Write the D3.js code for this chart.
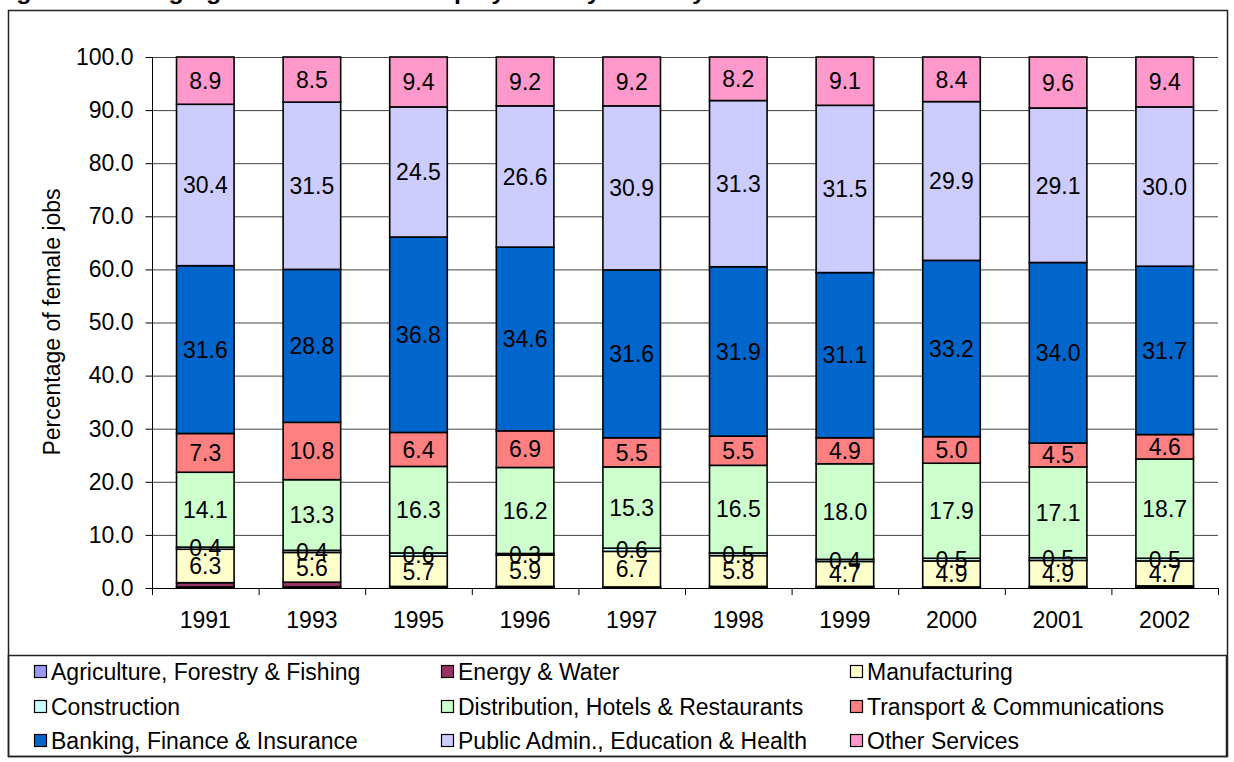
<!DOCTYPE html>
<html><head><meta charset="utf-8">
<script src="https://cdn.jsdelivr.net/npm/d3@7"></script>
<style>
body{margin:0;background:#fff;}
svg{display:block;font-family:"Liberation Sans",Arial,sans-serif;}
</style></head>
<body><svg id="c" width="1234" height="762"></svg>
<script>
const years = ["1991","1993","1995","1996","1997","1998","1999","2000","2001","2002"];
const seriesNames = ["Agriculture, Forestry & Fishing","Energy & Water","Manufacturing","Construction","Distribution, Hotels & Restaurants","Transport & Communications","Banking, Finance & Insurance","Public Admin., Education & Health","Other Services"];
const seriesColors = ["#9999FF","#993366","#FFFFCC","#CCFFFF","#CCFFCC","#FF8080","#0066CC","#CCCCFF","#FF99CC"];
const showLabel = [false,false,true,true,true,true,true,true,true];
const agriculture   = [0.2,0.2,0.1,0.1,0.1,0.1,0.1,0.1,0.1,0.1];
const energy        = [0.8,0.9,0.2,0.2,0.1,0.2,0.2,0.1,0.2,0.3];
const manufacturing = [6.3,5.6,5.7,5.9,6.7,5.8,4.7,4.9,4.9,4.7];
const construction  = [0.4,0.4,0.6,0.3,0.6,0.5,0.4,0.5,0.5,0.5];
const distribution  = [14.1,13.3,16.3,16.2,15.3,16.5,18.0,17.9,17.1,18.7];
const transport     = [7.3,10.8,6.4,6.9,5.5,5.5,4.9,5.0,4.5,4.6];
const banking       = [31.6,28.8,36.8,34.6,31.6,31.9,31.1,33.2,34.0,31.7];
const publicAdmin   = [30.4,31.5,24.5,26.6,30.9,31.3,31.5,29.9,29.1,30.0];
const otherServices = [8.9,8.5,9.4,9.2,9.2,8.2,9.1,8.4,9.6,9.4];
const yTicks = [0,10,20,30,40,50,60,70,80,90,100];
const yLabel = "Percentage of female jobs";
const titleText = "Figure 4: Changing share of female employment by industry";

const seriesValues = [agriculture,energy,manufacturing,construction,distribution,transport,banking,publicAdmin,otherServices];
const svg = d3.select("#c");
const FS = 23;

// outer frame
svg.append("rect").attr("x",8.5).attr("y",10.5).attr("width",1219).attr("height",746)
  .attr("fill","none").attr("stroke","#222").attr("stroke-width",1.5);
// clipped title (only descenders visible)
svg.append("text").attr("x",-6).attr("y",-1).attr("font-size",22).attr("font-weight","bold")
  .attr("textLength",712).attr("lengthAdjust","spacingAndGlyphs")
  .text(titleText);

const x = d3.scaleBand().domain(years).range([152,1218]).paddingInner(0.46).paddingOuter(0.23);
const xOuter = d3.scaleBand().domain(years).range([152,1218]);
const y = d3.scaleLinear().domain([0,100]).range([588,57]);

// gridlines
svg.append("g").selectAll("line").data(yTicks.filter(d=>d>0)).join("line")
  .attr("x1",152).attr("x2",1218).attr("y1",d=>y(d)+0.5).attr("y2",d=>y(d)+0.5)
  .attr("stroke","#444").attr("stroke-width",1);

// stacked data
const rows = years.map((yr,i)=>{const o={year:yr}; seriesNames.forEach((s,j)=>o[s]=seriesValues[j][i]); return o;});
const stack = d3.stack().keys(seriesNames)(rows);

const gBars = svg.append("g");
stack.forEach((layer,j)=>{
  gBars.append("g").selectAll("rect").data(layer).join("rect")
    .attr("x",d=>x(d.data.year)).attr("width",x.bandwidth())
    .attr("y",d=>y(d[1])).attr("height",d=>y(d[0])-y(d[1]))
    .attr("fill",seriesColors[j]).attr("stroke","#000").attr("stroke-width",1.6);
});
// labels
stack.forEach((layer,j)=>{
  if(!showLabel[j]) return;
  gBars.append("g").selectAll("text").data(layer).join("text")
    .attr("x",d=>x(d.data.year)+x.bandwidth()/2)
    .attr("y",d=>y((d[0]+d[1])/2))
    .attr("dy","0.36em").attr("text-anchor","middle").attr("font-size",FS).attr("fill","#000")
    .text(d=>(d[1]-d[0]).toFixed(1));
});

// y axis
const yAxis = d3.axisLeft(y).tickValues(yTicks).tickFormat(d3.format(".1f")).tickSize(7).tickPadding(12);
const ga = svg.append("g").attr("transform","translate(152.5,0)").call(yAxis);
ga.select(".domain").attr("stroke","#000").attr("d","M0,57V588");
ga.selectAll(".tick line").attr("stroke","#000");
ga.selectAll("text").attr("font-size",FS).attr("fill","#000").attr("font-family","Liberation Sans, Arial, sans-serif");

// x axis
svg.append("line").attr("x1",152).attr("x2",1218).attr("y1",588.5).attr("y2",588.5).attr("stroke","#000");
const bounds = years.map(yr=>xOuter(yr)).concat([1218]);
svg.append("g").selectAll("line").data(bounds).join("line")
  .attr("x1",d=>d+0.5).attr("x2",d=>d+0.5).attr("y1",588).attr("y2",595).attr("stroke","#000");
svg.append("g").selectAll("text").data(years).join("text")
  .attr("x",d=>xOuter(d)+xOuter.bandwidth()/2).attr("y",620).attr("dy","0.36em").attr("text-anchor","middle")
  .attr("font-size",FS).text(d=>d);

// y label
svg.append("text").attr("transform","translate(52,322) rotate(-90)").attr("text-anchor","middle")
  .attr("dy","0.36em").attr("font-size",FS).text(yLabel);

// legend
svg.append("rect").attr("x",8.5).attr("y",655.5).attr("width",1218).attr("height",101)
  .attr("fill","none").attr("stroke","#222").attr("stroke-width",1.5);
const colX = [34,441,850];
const rowY = [672,707,741];
const lg = svg.append("g").selectAll("g").data(seriesNames).join("g")
  .attr("transform",(d,i)=>`translate(${colX[i%3]},${rowY[Math.floor(i/3)]})`);
lg.append("rect").attr("x",0.5).attr("y",-6.5).attr("width",12).attr("height",12)
  .attr("fill",(d,i)=>seriesColors[i]).attr("stroke","#000").attr("stroke-width",1.2);
lg.append("text").attr("x",17).attr("y",0).attr("dy","0.36em").attr("font-size",FS).text(d=>d);
</script></body></html>
